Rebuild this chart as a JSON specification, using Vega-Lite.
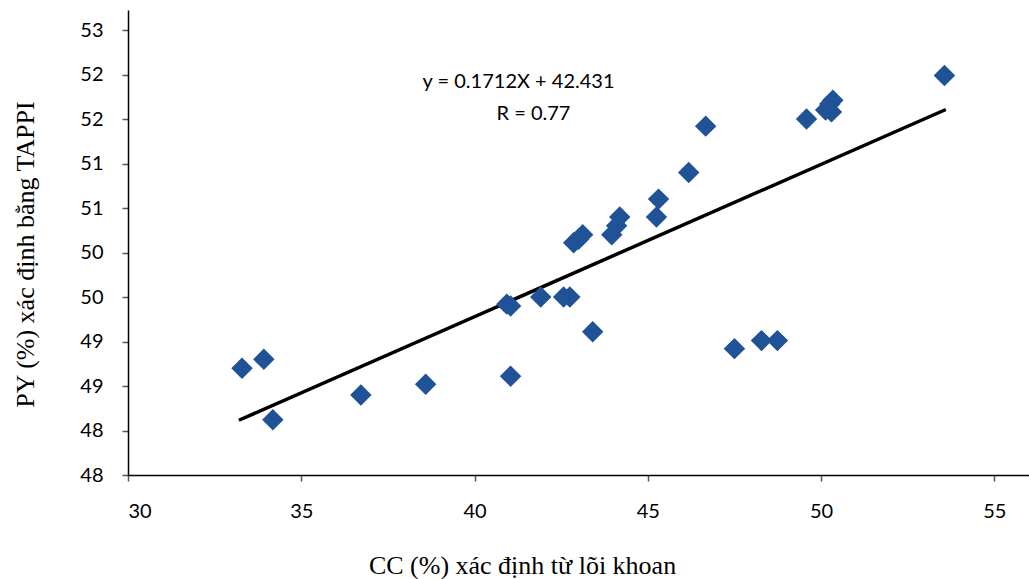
{
  "$schema": "https://vega.github.io/schema/vega-lite/v6.json",
  "width": 901,
  "height": 465,
  "autosize": {"type": "none"},
  "padding": {"left": 128, "top": 10, "right": 0, "bottom": 104},
  "background": "white",
  "config": {"view": {"stroke": null}},
  "datasets": {
    "pts": [
      {"cc": 33.29, "py": 48.70}, {"cc": 33.92, "py": 48.80}, {"cc": 34.18, "py": 48.12},
      {"cc": 36.72, "py": 48.40}, {"cc": 38.59, "py": 48.52}, {"cc": 40.93, "py": 49.42},
      {"cc": 41.04, "py": 49.40}, {"cc": 41.04, "py": 48.61}, {"cc": 41.91, "py": 49.50},
      {"cc": 42.57, "py": 49.50}, {"cc": 42.75, "py": 49.50}, {"cc": 43.41, "py": 49.11},
      {"cc": 42.86, "py": 50.11}, {"cc": 43.00, "py": 50.15}, {"cc": 43.12, "py": 50.20},
      {"cc": 43.96, "py": 50.20}, {"cc": 44.10, "py": 50.30}, {"cc": 44.19, "py": 50.40},
      {"cc": 45.25, "py": 50.40}, {"cc": 45.31, "py": 50.60}, {"cc": 46.18, "py": 50.90},
      {"cc": 46.67, "py": 51.42}, {"cc": 47.50, "py": 48.92}, {"cc": 48.28, "py": 49.01},
      {"cc": 48.74, "py": 49.01}, {"cc": 49.58, "py": 51.50}, {"cc": 50.13, "py": 51.60},
      {"cc": 50.25, "py": 51.67}, {"cc": 50.34, "py": 51.71}, {"cc": 50.30, "py": 51.58},
      {"cc": 53.56, "py": 51.99}
    ],
    "fit": [{"cc": 33.2, "py": 48.115}, {"cc": 53.6, "py": 51.607}],
    "notes": [
      {"cc": 41.27, "py": 51.92, "t": "y = 0.1712X + 42.431"},
      {"cc": 41.70, "py": 51.56, "t": "R = 0.77"}
    ]
  },
  "encoding": {
    "x": {
      "field": "cc", "type": "quantitative",
      "scale": {"domain": [30, 56], "nice": false, "zero": false},
      "axis": {
        "values": [30, 35, 40, 45, 50, 55], "grid": false,
        "title": "CC (%) xác định từ lõi khoan",
        "titleFont": "Liberation Serif", "titleFontSize": 26, "titleFontWeight": "normal",
        "titleColor": "black", "titleX": 394, "titleY": 90, "titleAlign": "center", "titleBaseline": "middle", "titleAnchor": null,
        "labelFont": "Lato", "labelFontSize": 20, "labelColor": "black", "labelPadding": 20,
        "domainColor": "black", "domainWidth": 1.5, "tickColor": "#555", "tickSize": 6, "tickWidth": 1.5
      }
    },
    "y": {
      "field": "py", "type": "quantitative",
      "scale": {"domain": [47.5, 52.725], "nice": false, "zero": false},
      "axis": {
        "values": [47.5, 48, 48.5, 49, 49.5, 50, 50.5, 51, 51.5, 52, 52.5], "format": ".0f",
        "grid": false,
        "title": "PY (%) xác định bằng TAPPI",
        "titleFont": "Liberation Serif", "titleFontSize": 26, "titleFontWeight": "normal",
        "titleColor": "black", "titleAngle": 270, "titleX": -103, "titleY": 244, "titleAlign": "center", "titleBaseline": "middle", "titleAnchor": null,
        "labelFont": "Lato", "labelFontSize": 20, "labelColor": "black", "labelPadding": 19,
        "domainColor": "black", "domainWidth": 1.5, "tickColor": "#555", "tickSize": 6, "tickWidth": 1.5
      }
    }
  },
  "layer": [
    {
      "data": {"name": "fit"},
      "mark": {"type": "line", "color": "black", "strokeWidth": 3.5}
    },
    {
      "data": {"name": "pts"},
      "mark": {"type": "point", "shape": "diamond", "filled": true, "opacity": 1, "size": 460, "color": "#1f5296"}
    },
    {
      "data": {"name": "notes"},
      "mark": {"type": "text", "font": "Lato", "fontSize": 20, "color": "black", "align": "center", "baseline": "middle"},
      "encoding": {"text": {"field": "t"}}
    }
  ]
}
